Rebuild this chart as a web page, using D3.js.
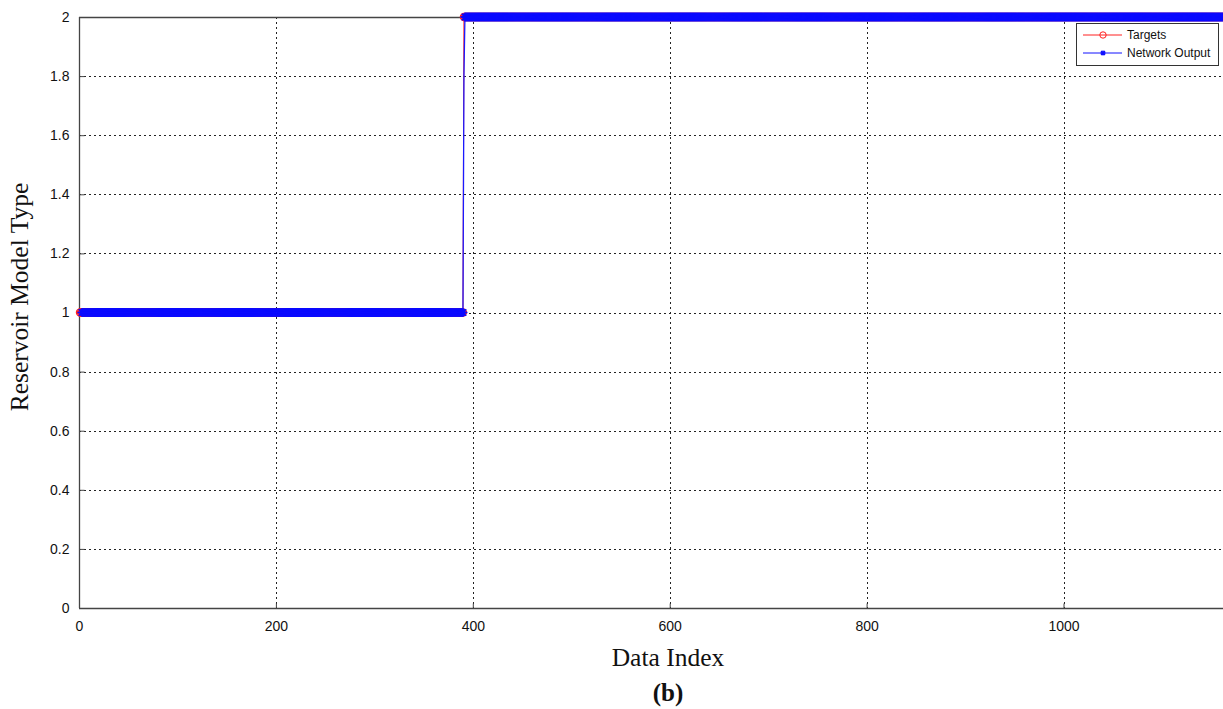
<!DOCTYPE html>
<html>
<head>
<meta charset="utf-8">
<script src="https://cdn.jsdelivr.net/npm/d3@7"></script>
<style>
  html, body { margin: 0; padding: 0; background: #fff; }
  svg { display: block; }
</style>
</head>
<body>
<svg id="chart" width="1223" height="709"></svg>
<script>
// Class labels per sample, stored as runs of equal values (value, number of samples)
const targetRuns = [[1, 390], [2, 773]];
const outputRuns = [[1, 390], [1.8, 1], [2, 772]];
const xTicks = [0, 200, 400, 600, 800, 1000];
const yTicks = [0, 0.2, 0.4, 0.6, 0.8, 1, 1.2, 1.4, 1.6, 1.8, 2];
const legendLabels = ["Targets", "Network Output"];

function expand(runs) {
  const out = [];
  let i = 1;
  runs.forEach(([v, n]) => { for (let k = 0; k < n; k++) out.push({ x: i++, y: v }); });
  return out;
}
const targets = expand(targetRuns);
const output = expand(outputRuns);

const svg = d3.select("#chart");
const m = { left: 79, top: 17, right: 1223, bottom: 608 };

const x = d3.scaleLinear().domain([0, 1162]).range([m.left, m.right]);
const y = d3.scaleLinear().domain([0, 2]).range([m.bottom, m.top]);

// dotted grid
const grid = svg.append("g").attr("stroke", "#222").attr("stroke-width", 1).attr("stroke-dasharray", "2,3");
xTicks.filter(d => d > 0).forEach(d => {
  grid.append("line").attr("x1", Math.round(x(d)) + 0.5).attr("x2", Math.round(x(d)) + 0.5)
    .attr("y1", m.top).attr("y2", m.bottom);
});
yTicks.filter(d => d > 0 && d < 2).forEach(d => {
  grid.append("line").attr("y1", Math.round(y(d)) + 0.5).attr("y2", Math.round(y(d)) + 0.5)
    .attr("x1", m.left).attr("x2", m.right);
});

// axes with inward ticks
const xAxis = d3.axisBottom(x).tickValues(xTicks).tickSizeInner(-5).tickSizeOuter(0).tickPadding(13)
  .tickFormat(d3.format("d"));
const yAxis = d3.axisLeft(y).tickValues(yTicks).tickSizeInner(-5).tickSizeOuter(0).tickPadding(10)
  .tickFormat(d3.format("~g"));

const gx = svg.append("g").attr("transform", `translate(0,${m.bottom + 0.5})`).call(xAxis);
const gy = svg.append("g").attr("transform", `translate(${m.left + 0.5},0)`).call(yAxis);
[gx, gy].forEach(g => {
  g.select(".domain").attr("stroke", "#444").attr("stroke-width", 1.3);
  g.selectAll(".tick line").attr("stroke", "#444");
  g.selectAll(".tick text").attr("fill", "#111").attr("font-family", "Liberation Sans, Arial, sans-serif")
    .attr("font-size", 14);
});
gx.select(".domain").attr("d", `M${m.left},0H${m.right}`);
gy.select(".domain").attr("d", `M0,${m.bottom}V${m.top}`);

// top frame
svg.append("line").attr("x1", m.left).attr("x2", m.right).attr("y1", m.top + 0.5).attr("y2", m.top + 0.5)
  .attr("stroke", "#444").attr("stroke-width", 1.3);

// Targets: red line with circle markers
const line = d3.line().x(d => x(d.x)).y(d => y(d.y));
svg.append("path").datum(targets).attr("d", line).attr("fill", "none").attr("stroke", "#ff2020").attr("stroke-width", 1);
svg.append("g").selectAll("circle").data(targets).join("circle")
  .attr("cx", d => x(d.x)).attr("cy", d => y(d.y)).attr("r", 3.6)
  .attr("fill", "none").attr("stroke", "#ff2020").attr("stroke-width", 1.2);

// Network output: blue line with star markers
svg.append("path").datum(output).attr("d", line).attr("fill", "none").attr("stroke", "#1a1aff").attr("stroke-width", 1.3);
const star = "M-4.5,0H4.5M0,-4.5V4.5M-3.3,-3.3L3.3,3.3M-3.3,3.3L3.3,-3.3";
svg.append("g").selectAll("path").data(output.filter(d => d.x > 2 && d.y !== 1.8)).join("path")
  .attr("transform", d => `translate(${x(d.x)},${y(d.y)})`)
  .attr("d", star).attr("stroke", "#0a0aff").attr("stroke-width", 1.4).attr("fill", "none");

// axis titles
const serif = "Liberation Serif, Times New Roman, serif";
svg.append("text").attr("x", 668).attr("y", 666).attr("text-anchor", "middle")
  .attr("font-family", serif).attr("font-size", 25.5).attr("fill", "#111")
  .text("Data Index");
svg.append("text").attr("transform", `translate(28,297) rotate(-90)`).attr("text-anchor", "middle")
  .attr("font-family", serif).attr("font-size", 25.5).attr("fill", "#111")
  .text("Reservoir Model Type");
svg.append("text").attr("x", 668).attr("y", 701).attr("text-anchor", "middle")
  .attr("font-family", serif).attr("font-size", 25).attr("font-weight", "bold")
  .attr("fill", "#111").text("(b)");

// legend
const lg = svg.append("g").attr("transform", "translate(1076,23)");
lg.append("rect").attr("x", 0.5).attr("y", 0.5).attr("width", 142).attr("height", 42)
  .attr("fill", "#fff").attr("stroke", "#333").attr("stroke-width", 1);
const colors = ["#ff2020", "#1010ff"];
legendLabels.forEach((lab, i) => {
  const cy = 12 + i * 18;
  lg.append("line").attr("x1", 7).attr("x2", 46).attr("y1", cy).attr("y2", cy).attr("stroke", colors[i]).attr("stroke-width", 1);
  if (i === 0) {
    lg.append("circle").attr("cx", 27).attr("cy", cy).attr("r", 3.2).attr("fill", "none").attr("stroke", colors[i]);
  } else {
    lg.append("path").attr("transform", `translate(27,${cy})`).attr("d", "M-2.5,0H2.5M0,-2.5V2.5M-2,-2L2,2M-2,2L2,-2")
      .attr("stroke", colors[i]).attr("stroke-width", 1.3);
  }
  lg.append("text").attr("x", 51).attr("y", cy + 4).attr("font-family", "Liberation Sans, Arial, sans-serif")
    .attr("font-size", 12).attr("fill", "#111").text(lab);
});
</script>
</body>
</html>
